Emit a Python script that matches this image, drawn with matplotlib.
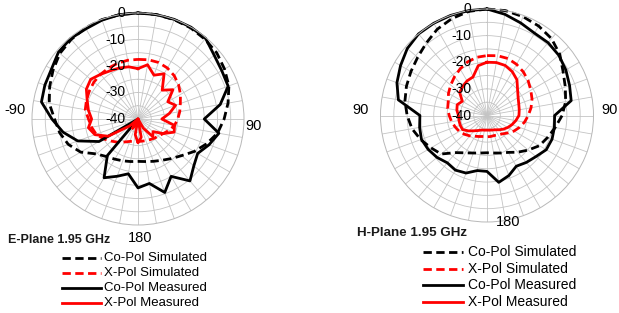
import numpy as np
import matplotlib
matplotlib.use('Agg')
import matplotlib.pyplot as plt
from matplotlib.lines import Line2D

plt.rcParams['font.family'] = ['Liberation Sans', 'DejaVu Sans']

# angles in degrees, clockwise from top, 10 deg steps
angles = np.arange(0, 360, 10)

# E-plane 1.95 GHz (dB)
e_co_sim = [0, 0, -0.1, -0.3, -0.7, -1.2, -2.3, -3.5, -5.5, -7.5, -9.5, -12.5,
            -15.5, -18.5, -20.5, -22, -23, -23.7, -24, -23.7, -23.2, -22.5, -21.5, -19.5,
            -15, -12, -10, -8.5, -6, -4.5, -3, -1.5, -0.8, -0.3, -0.1, 0]
e_x_sim = [-17.5, -17.3, -17.3, -17.8, -18.7, -20, -21.5, -23, -24, -25, -26, -27.5,
           -29, -30, -30.5, -31, -31.3, -31.5, -31.5, -31.5, -31, -30, -28.5, -27,
           -25, -23.2, -22.2, -21.3, -19.8, -19.3, -18.8, -18.3, -18, -17.8, -17.6, -17.5]
e_co_meas = [0, 0, 0, 0, -0.3, -2.5, -3.5, -3.8, -8.5, -15, -9, -11.5,
             -14, -12.5, -9.5, -15, -10.5, -15.3, -14, -19, -17, -14.4, -22, -40,
             -23, -15.8, -11.3, -7.5, -3, -2.6, -2.3, -0.8, -0.4, -0.7, -0.3, 0]
e_x_meas = [-21, -19.2, -22.4, -20.3, -25.8, -22.8, -27, -24.9, -28, -31, -26, -25.5,
            -29, -32.6, -31.3, -36, -40, -33, -31, -34, -40, -36, -40, -36,
            -27, -22.7, -21, -22.5, -21, -19.6, -17.5, -16.7, -18, -19, -19.5, -20]

# H-plane 1.95 GHz (dB)
h_co_sim = [0, 0, -0.5, -1.2, -2.3, -4.3, -7, -8.7, -10, -11.8, -14, -15.8,
            -17.3, -19.8, -22, -24, -25, -25.7, -26, -25.7, -25, -23.8, -21.8, -17.5,
            -15.7, -13.5, -11.4, -10, -8.7, -7.8, -7, -6, -4.5, -2.6, -1.3, -0.3]
h_x_sim = [-17.5, -17.2, -17.2, -17.8, -18.7, -19.8, -21, -22, -23.2, -24.5, -25.7, -27,
           -28.3, -29.8, -31, -31.6, -32, -32, -32, -32, -31.6, -31, -30, -29,
           -28, -27.3, -26.5, -25.8, -25, -24.5, -23.3, -22.2, -21, -19.8, -18.6, -17.8]
h_co_meas = [0, -1.4, -3, -4.3, -4.3, -4.8, -5.8, -7, -7.9, -14.6, -14.3, -14,
             -14.3, -16, -17, -18, -16, -14.5, -19, -19, -17, -16.3, -16.8, -15.5,
             -14.5, -13.8, -14.3, -14.8, -6.2, -4, -2.5, -0.9, 0, 0, 0, 0]
h_x_meas = [-20, -19.8, -20, -21, -22.5, -25, -26.5, -27.3, -27.7, -28, -29, -30,
            -31, -32, -33, -33.8, -34.2, -34.4, -34.5, -34.4, -34.2, -33.5, -32.5, -31,
            -29.4, -29.3, -29.3, -29.3, -28.5, -28.1, -29.3, -26.6, -25.8, -25, -24.6, -21]

series_names = ['Co-Pol Simulated', 'X-Pol Simulated', 'Co-Pol Measured', 'X-Pol Measured']
colors = ['black', '#ff0000', 'black', '#ff0000']
dash = (0, (3, 1.6))
styles = [dash, dash, '-', '-']

W, H = 619, 313
fig = plt.figure(figsize=(W / 100, H / 100), dpi=100)


def fpos(x, y):
    return x / W, 1 - y / H


def panel(cx, cy, R, data, lab_off):
    ax = fig.add_axes([(cx - R) / W, 1 - (cy + R) / H, 2 * R / W, 2 * R / H],
                      projection='polar')
    ax.set_theta_zero_location('N')
    ax.set_theta_direction(-1)
    ax.set_ylim(-40, 0)
    ax.set_xticks(np.deg2rad(angles))
    ax.set_xticklabels([])
    ax.set_yticks(np.arange(-35, 0, 5))
    ax.set_yticklabels([])
    ax.grid(color='#c4c4c4', lw=0.6)
    ax.spines['polar'].set_color('#b8b8b8')
    ax.spines['polar'].set_linewidth(0.7)
    th = np.deg2rad(np.append(angles, 0))
    for vals, c, ls in zip(data, colors, styles):
        v = np.append(vals, vals[0])
        ax.plot(th, v, color=c, ls=ls, lw=2.0, clip_on=False)
    for r in (0, -10, -20, -30, -40):
        ax.annotate(str(r), xy=(0, r), xytext=(-lab_off, 0), textcoords='offset points',
                    ha='right', va='center', fontsize=10, color='black',
                    annotation_clip=False)
    return ax


panel(138, 119, 106, [e_co_sim, e_x_sim, e_co_meas, e_x_meas], 9)
panel(487, 115.5, 106.5, [h_co_sim, h_x_sim, h_co_meas, h_x_meas], 11)

# category labels
for txt, x, y in [('-90', 15, 110), ('90', 254, 126), ('180', 140, 238),
                  ('90', 361, 110), ('90', 610, 110), ('180', 508, 222)]:
    fig.text(*fpos(x, y), txt, ha='center', va='center', fontsize=10.5, color='black')

fig.text(*fpos(8, 240), 'E-Plane 1.95 GHz', ha='left', va='center', fontsize=9,
         fontweight='bold', color='#1a1a1a')
fig.text(*fpos(357, 233), 'H-Plane 1.95 GHz', ha='left', va='center', fontsize=9.6,
         fontweight='bold', color='#1a1a1a')


def legend(x0, x1, xt, rows, fs):
    for name, c, ls, y in zip(series_names, colors, styles, rows):
        fig.add_artist(Line2D([x0 / W, x1 / W], [1 - y / H, 1 - y / H], color=c, ls=ls,
                              lw=2.0, transform=fig.transFigure))
        fig.text(*fpos(xt, y), name, ha='left', va='center', fontsize=fs, color='black')


legend(62, 101, 104, [258, 273, 288, 303], 9.5)
legend(423, 463, 468, [252, 269, 285, 302], 10)

fig.savefig('out.png', dpi=100)
